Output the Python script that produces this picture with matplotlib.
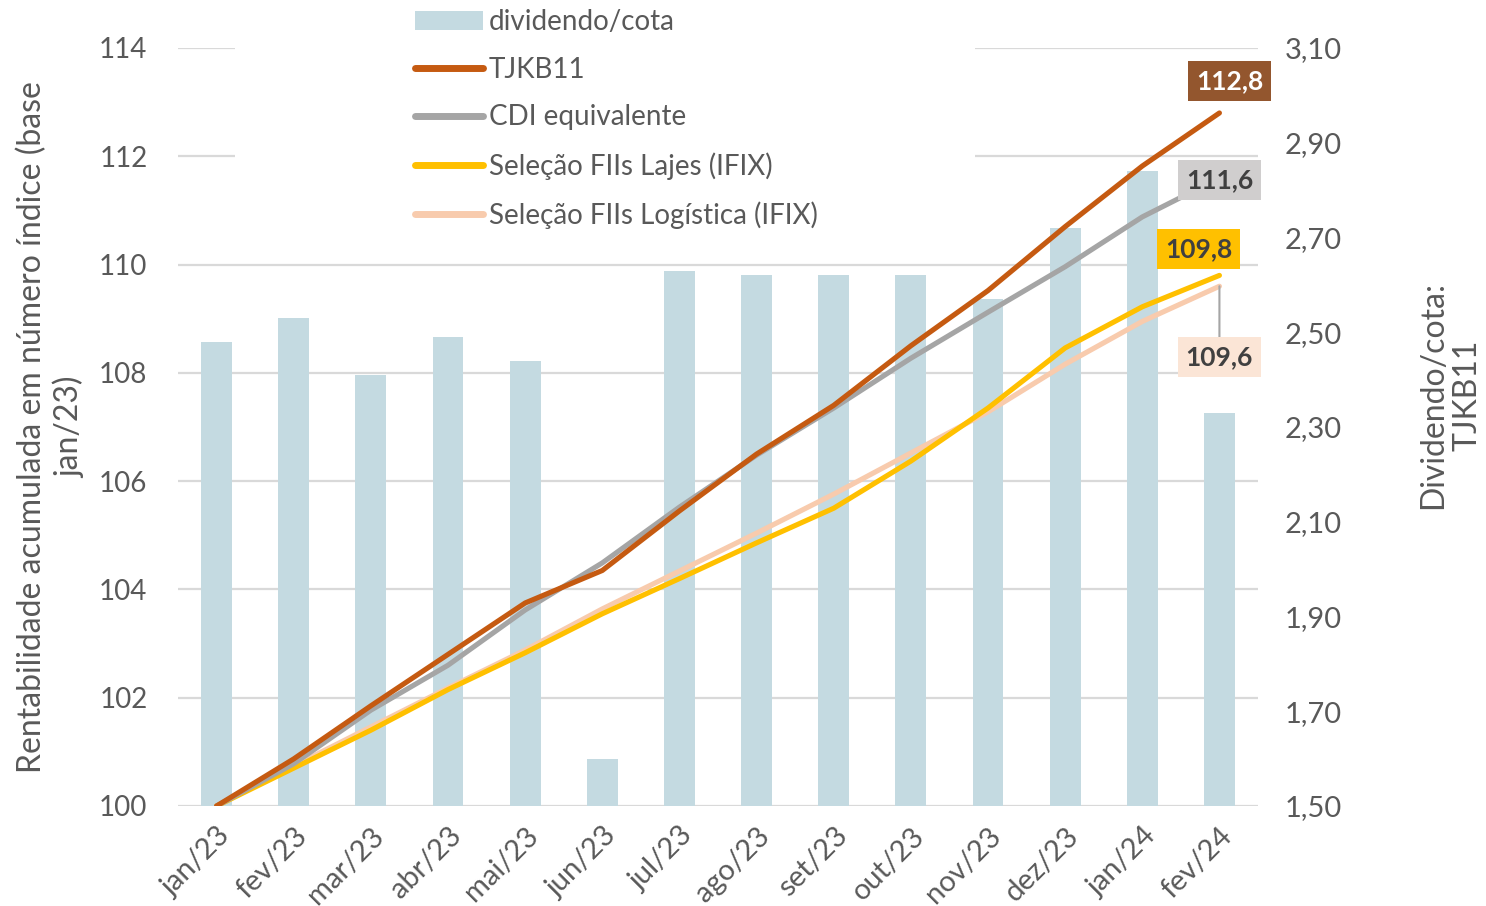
import numpy as np
import matplotlib
matplotlib.use("Agg")
import matplotlib.pyplot as plt
from matplotlib.lines import Line2D
from matplotlib.patches import Patch, Rectangle

plt.rcParams["font.family"] = ["Lato", "DejaVu Sans"]

# ---------------------------------------------------------------------------
# Data
# ---------------------------------------------------------------------------
months = ["jan/23", "fev/23", "mar/23", "abr/23", "mai/23", "jun/23", "jul/23",
          "ago/23", "set/23", "out/23", "nov/23", "dez/23", "jan/24", "fev/24"]
dividendo = [2.48, 2.53, 2.41, 2.49, 2.44, 1.60, 2.63,
             2.62, 2.62, 2.62, 2.57, 2.72, 2.84, 2.33]
tjkb11 = [100.0, 100.87, 101.85, 102.80, 103.75, 104.35, 105.45,
          106.50, 107.40, 108.50, 109.52, 110.70, 111.82, 112.80]
cdi = [100.0, 100.78, 101.77, 102.60, 103.62, 104.49, 105.52,
       106.48, 107.35, 108.27, 109.12, 109.96, 110.88, 111.60]
lajes = [100.0, 100.70, 101.40, 102.15, 102.83, 103.55, 104.20,
         104.86, 105.50, 106.37, 107.35, 108.46, 109.22, 109.80]
logistica = [100.0, 100.74, 101.46, 102.18, 102.88, 103.64, 104.34,
             105.04, 105.76, 106.52, 107.28, 108.16, 108.95, 109.60]

COL_BAR = "#C4DAE1"
COL_TJ = "#C55A11"
COL_CDI = "#A5A5A5"
COL_LAJ = "#FFC000"
COL_LOG = "#F8CBAD"
COL_TXT = "#595959"
COL_GRID = "#D9D9D9"

W, H = 1486, 906
fig = plt.figure(figsize=(W / 100, H / 100), dpi=100)
rect = [178 / W, 100 / H, 1080 / W, 758 / H]
x = np.arange(len(months))

# background axes: gridlines, left ticks, x ticks
axg = fig.add_axes(rect)
axg.set_xlim(-0.5, len(months) - 0.5)
axg.set_ylim(100, 114)
axg.set_yticks(np.arange(100, 115, 2))
axg.grid(axis="y", color=COL_GRID, linewidth=1.6)
axg.set_axisbelow(True)
axg.set_xticks(x)
axg.set_xticklabels(months, rotation=45, ha="right", va="top",
                    rotation_mode="anchor", fontsize=21, color=COL_TXT)
axg.tick_params(axis="y", length=0, labelsize=20, labelcolor=COL_TXT, pad=22)
axg.tick_params(axis="x", length=0, pad=12)
for s in axg.spines.values():
    s.set_visible(False)
axg.set_ylabel("Rentabilidade acumulada em número índice (base\njan/23)",
               fontsize=23, color=COL_TXT, labelpad=10, linespacing=1.25)
# white box behind legend hides the gridlines there
axg.add_patch(Rectangle((235 / W, 1 - 235 / H), 740 / W, 235 / H,
                        transform=fig.transFigure, facecolor="white",
                        edgecolor="none", zorder=3, clip_on=False))

# bars on the right axis
axb = axg.twinx()
axb.bar(x, np.array(dividendo) - 1.5, bottom=1.5, width=0.4, color=COL_BAR, zorder=2)
axb.set_ylim(1.5, 3.1)
ticks_r = np.arange(1.5, 3.11, 0.2)
axb.set_yticks(ticks_r)
axb.set_yticklabels([f"{v:.2f}".replace(".", ",") for v in ticks_r])
axb.tick_params(axis="y", length=0, labelsize=21, labelcolor=COL_TXT, pad=19)
for s in axb.spines.values():
    s.set_visible(False)
axb.set_ylabel("Dividendo/cota:\nTJKB11", fontsize=23, color=COL_TXT,
               linespacing=1.2)
axb.yaxis.set_label_coords(1.148, 0.542)

# lines on top
axl = fig.add_axes(rect)
axl.set_xlim(-0.5, len(months) - 0.5)
axl.set_ylim(100, 114)
axl.axis("off")
kw = dict(linewidth=3.7, solid_capstyle="round", solid_joinstyle="round")
axl.plot(x, logistica, color=COL_LOG, **kw)
axl.plot(x, lajes, color=COL_LAJ, **kw)
axl.plot(x, cdi, color=COL_CDI, **kw)
axl.plot(x, tjkb11, color=COL_TJ, **kw)

# end-of-line data labels
lab = dict(textcoords="offset pixels", ha="center", va="center",
           fontsize=19, fontweight="bold", annotation_clip=False)
box = "square,pad=0.3"
axl.annotate("112,8", (x[-1], tjkb11[-1]), xytext=(10, 32), color="white",
             bbox=dict(boxstyle=box, fc="#93562E", ec="none"), **lab)
axl.annotate("111,6", (x[-1], cdi[-1]), xytext=(0, -2), color="#404040",
             bbox=dict(boxstyle=box, fc="#D0CECE", ec="none"), **lab)
axl.annotate("109,8", (x[-1], lajes[-1]), xytext=(-21, 26), color="#404040",
             bbox=dict(boxstyle=box, fc=COL_LAJ, ec="none"), **lab)
axl.annotate("109,6", (x[-1], logistica[-1]), xytext=(0, -71), color="#404040",
             bbox=dict(boxstyle=box, fc="#FBE5D6", ec="none"),
             arrowprops=dict(arrowstyle="-", color="#A5A5A5", lw=1.5,
                             shrinkA=0, shrinkB=0), **lab)

# legend
handles = [
    Patch(facecolor=COL_BAR, edgecolor="none"),
    Line2D([], [], color=COL_TJ, linewidth=5, solid_capstyle="round"),
    Line2D([], [], color=COL_CDI, linewidth=5, solid_capstyle="round"),
    Line2D([], [], color=COL_LAJ, linewidth=5, solid_capstyle="round"),
    Line2D([], [], color=COL_LOG, linewidth=5, solid_capstyle="round"),
]
labels = ["dividendo/cota", "TJKB11", "CDI equivalente",
          "Seleção FIIs Lajes (IFIX)", "Seleção FIIs Logística (IFIX)"]
leg = axl.legend(handles, labels, loc="upper left",
                 bbox_to_anchor=(397 / W, 1 + 9 / H), bbox_transform=fig.transFigure,
                 frameon=False, fontsize=20, handlelength=2.45, handleheight=0.65,
                 handletextpad=0.2, labelspacing=0.78, borderpad=0.15)
for t in leg.get_texts():
    t.set_color(COL_TXT)

fig.savefig("out.png", dpi=100)
